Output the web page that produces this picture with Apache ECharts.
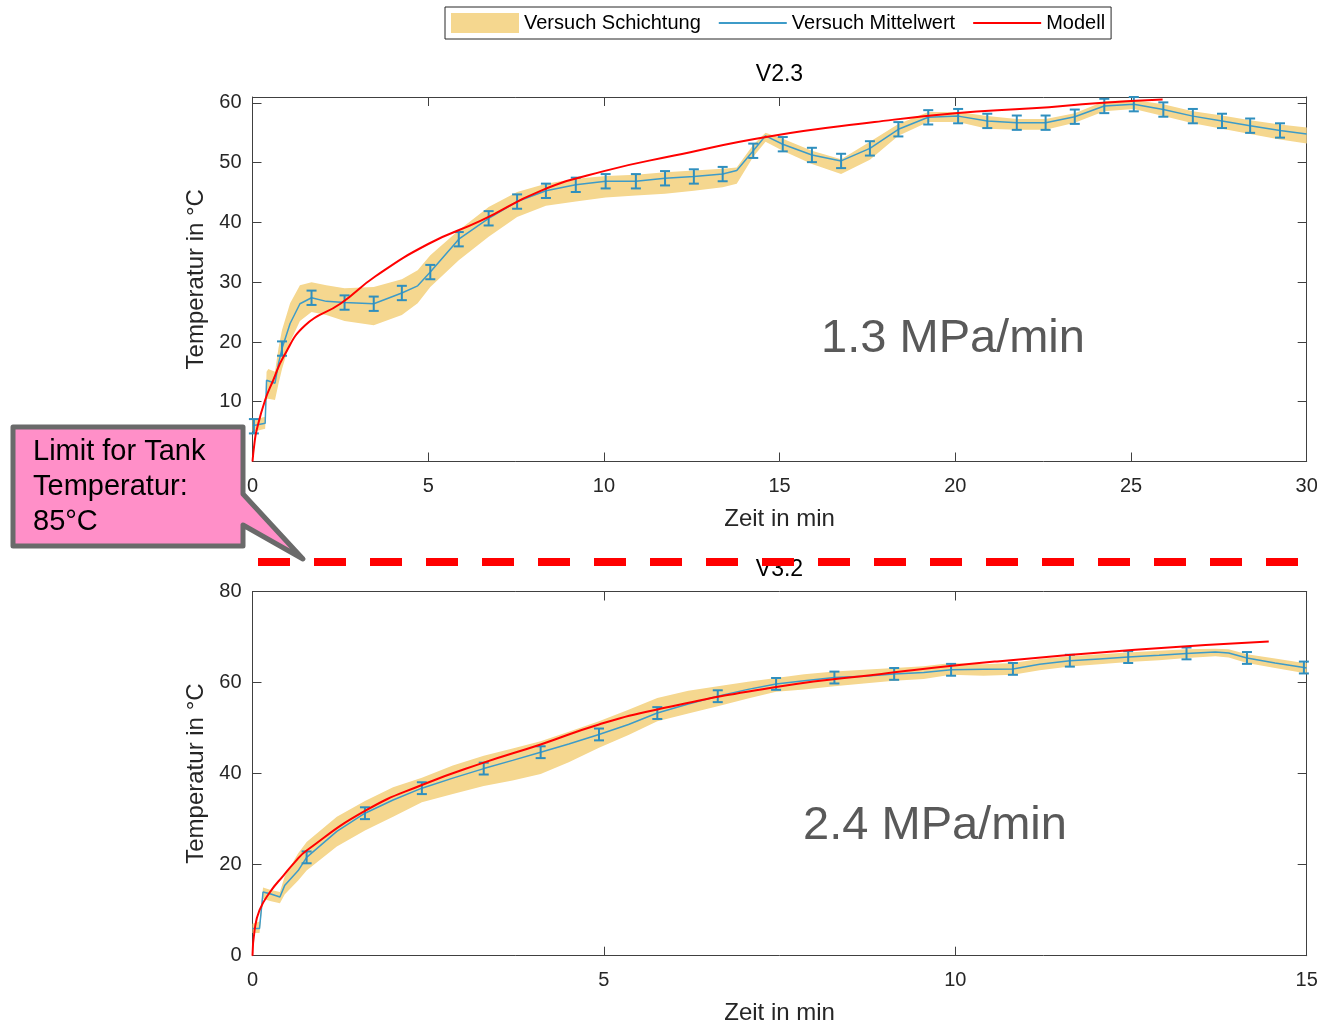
<!DOCTYPE html>
<html>
<head>
<meta charset="utf-8">
<script src="https://cdn.jsdelivr.net/npm/echarts@6/dist/echarts.min.js"></script>
<style>
  html, body { margin: 0; padding: 0; background: #fff; }
  #chart { width: 1317px; height: 1026px; }
</style>
</head>
<body>
<div id="chart"></div>
<script>
// ---- V2.3 (1.3 MPa/min) ----
const topT    = [0, 0.04, 0.36, 0.40, 0.45, 0.64, 0.74, 0.84, 1.07, 1.35, 1.68, 2.1, 2.62, 3.45, 4.25, 4.7, 5.06, 5.87, 6.72, 7.53, 8.35, 9.2, 10.05, 10.91, 11.74, 12.56, 13.38, 13.78, 14.25, 14.6, 15.09, 15.92, 16.75, 17.57, 18.38, 19.23, 20.08, 20.91, 21.75, 22.57, 23.4, 24.24, 25.08, 25.92, 26.76, 27.59, 28.39, 29.24, 30];
const topMean = [6.0, 5.9, 6.4, 13.6, 13.6, 13.1, 16.4, 18.9, 23.1, 26.4, 27.4, 26.8, 26.6, 26.4, 28.2, 29.4, 31.7, 37.2, 40.7, 43.5, 45.3, 46.3, 46.9, 46.9, 47.4, 47.7, 48.1, 48.7, 52.0, 54.5, 53.1, 51.3, 50.3, 52.4, 55.6, 57.6, 57.8, 57.0, 56.7, 56.7, 57.7, 59.5, 59.8, 58.9, 57.8, 57.0, 56.2, 55.4, 54.8];
const topLo   = [5, 5, 5.5, 10.5, 10.5, 10.3, 13, 15.5, 20, 23.5, 25, 24.5, 23.5, 22.8, 24.5, 26.5, 29.2, 33.7, 37.6, 40.9, 42.8, 43.5, 44.2, 44.5, 44.8, 45.3, 45.9, 46.5, 51, 53.5, 52, 49.8, 48.1, 50.5, 54.5, 56.8, 56.8, 55.7, 55.5, 55.5, 56.7, 58.6, 59, 57.8, 56.6, 55.7, 54.8, 53.9, 53.2];
const topHi   = [7, 7, 7.5, 15, 15.5, 15, 19, 22, 26.5, 29.5, 30, 29.5, 29, 29.2, 30.5, 32, 34.5, 38.7, 42.6, 45.1, 46.5, 47.3, 47.8, 48, 48.4, 48.7, 49, 49.2, 53, 55, 54, 52, 50.6, 53.5, 56.5, 58.5, 58.5, 57.8, 57.3, 57.3, 58.3, 60.3, 60.5, 59.8, 58.6, 57.9, 57.1, 56.4, 55.9];
const topErrT = [0.04, 0.84, 1.68, 2.62, 3.45, 4.25, 5.06, 5.87, 6.72, 7.53, 8.35, 9.2, 10.05, 10.91, 11.74, 12.56, 13.38, 14.25, 15.09, 15.92, 16.75, 17.57, 18.38, 19.23, 20.08, 20.91, 21.75, 22.57, 23.4, 24.24, 25.08, 25.92, 26.76, 27.59, 28.39, 29.24];
const topErrY = [5.9, 18.9, 27.4, 26.6, 26.4, 28.2, 31.7, 37.2, 40.7, 43.5, 45.3, 46.3, 46.9, 46.9, 47.4, 47.7, 48.1, 52.0, 53.1, 51.3, 50.3, 52.4, 55.6, 57.6, 57.8, 57.0, 56.7, 56.7, 57.7, 59.5, 59.8, 58.9, 57.8, 57.0, 56.2, 55.4];
const topErrD = [1.2, 1.2, 1.2, 1.2, 1.2, 1.2, 1.2, 1.2, 1.2, 1.2, 1.2, 1.2, 1.2, 1.2, 1.2, 1.2, 1.2, 1.2, 1.2, 1.2, 1.2, 1.2, 1.2, 1.2, 1.2, 1.2, 1.2, 1.2, 1.2, 1.2, 1.2, 1.2, 1.2, 1.2, 1.2, 1.2];
const topModelT = [0, 0.05, 0.12, 0.36, 0.59, 0.89, 1.5, 2.5, 3.5, 5.0, 6.5, 8.2, 10.0, 12.0, 14.7, 17.7, 20.0, 22.2, 24.1, 25.9];
const topModelY = [0, 2.8, 5.3, 10.3, 13.6, 17.6, 22.8, 26.4, 31.0, 36.4, 40.3, 45.3, 48.6, 51.2, 54.4, 56.8, 58.3, 59.1, 60.0, 60.6];

// ---- V3.2 (2.4 MPa/min) ----
const botT    = [0, 0.1, 0.15, 0.25, 0.39, 0.46, 0.65, 0.77, 1.2, 1.6, 2.0, 2.41, 2.85, 3.29, 3.7, 4.10, 4.5, 4.93, 5.35, 5.76, 6.2, 6.62, 7.05, 7.45, 7.85, 8.28, 8.7, 9.13, 9.55, 9.94, 10.4, 10.82, 11.2, 11.63, 12.05, 12.46, 12.9, 13.29, 13.7, 13.89, 14.15, 14.55, 14.96, 15];
const botMean = [6.0, 6.0, 14.0, 13.6, 12.9, 15.5, 18.7, 21.6, 27.3, 31.3, 34.2, 36.8, 39.0, 41.1, 42.9, 44.7, 46.5, 48.6, 50.8, 53.3, 55.3, 57.0, 58.5, 59.7, 60.4, 61.1, 61.4, 61.9, 62.2, 62.8, 62.9, 63.0, 64.0, 64.8, 65.2, 65.6, 66.0, 66.4, 66.7, 66.5, 65.4, 64.3, 63.3, 63.2];
const botLo   = [5, 5, 12.5, 12, 11.5, 13.5, 16.5, 18.7, 24, 27.5, 30.5, 33.7, 35.5, 37.3, 38.5, 39.9, 42.5, 45.7, 48.5, 51.5, 53.2, 54.8, 56.5, 58, 58.5, 59.2, 59.8, 60.4, 60.8, 61.7, 61.5, 61.7, 62.7, 63.5, 64, 64.5, 64.9, 65.4, 65.8, 65.5, 64.3, 63.2, 62.1, 62];
const botHi   = [7, 7.5, 15, 14.5, 14, 17.5, 22.5, 25, 30.5, 34, 37, 39.1, 41.8, 43.9, 45.5, 47.1, 49.2, 51.5, 54, 56.6, 58.2, 59.2, 60.2, 61, 61.8, 62.4, 62.8, 63.2, 63.6, 64.3, 64, 64.3, 65.2, 65.8, 66.2, 66.6, 67, 67.3, 67.4, 67.3, 66.2, 65.3, 64.3, 64.3];
const botErrT = [0.77, 1.60, 2.41, 3.29, 4.10, 4.93, 5.76, 6.62, 7.45, 8.28, 9.13, 9.94, 10.82, 11.63, 12.46, 13.29, 14.15, 14.96];
const botErrY = [21.6, 31.3, 36.8, 41.1, 44.7, 48.6, 53.3, 57.0, 59.7, 61.1, 61.9, 62.8, 63.0, 64.8, 65.6, 66.4, 65.4, 63.3];
const botErrD = [1.3, 1.3, 1.3, 1.3, 1.3, 1.3, 1.3, 1.3, 1.3, 1.3, 1.3, 1.3, 1.3, 1.3, 1.3, 1.3, 1.3, 1.3];
const botModelT = [0, 0.03, 0.1, 0.25, 0.44, 0.6, 0.77, 1.6, 2.41, 3.29, 4.1, 4.93, 5.76, 7.52, 8.95, 10.56, 12.56, 14.46];
const botModelY = [0, 5.6, 10, 14, 17.6, 20.5, 23.1, 31.8, 37.5, 42.4, 46.4, 50.8, 54.1, 59.2, 61.9, 64.6, 67.2, 69.0];

// tick labels
const topXTicks = [0, 5, 10, 15, 20, 25, 30];
const topYTicks = [0, 10, 20, 30, 40, 50, 60];
const botXTicks = [0, 5, 10, 15];
const botYTicks = [0, 20, 40, 60, 80];

const FONT = 'Liberation Sans, Arial, sans-serif';
const axisCol = '#404040';
const textCol = '#262626';
const bandCol = '#f5d78f';
const meanCol = '#3d9bc8';
const errCol = '#2f8fbe';
const modelCol = '#ff0000';
const lineIcon = 'path://M0,0H68V2H0Z';

function xAxes(gi, ticks) {
  const base = {
    type: 'value', gridIndex: gi, min: ticks[0], max: ticks[ticks.length - 1],
    interval: ticks[1] - ticks[0], splitLine: { show: false },
    axisLine: { onZero: false, lineStyle: { color: axisCol, width: 1 } },
    axisTick: { inside: true, length: 9, lineStyle: { color: axisCol } }
  };
  return [
    Object.assign({}, base, {
      position: 'bottom', name: 'Zeit in min', nameLocation: 'middle', nameGap: 46,
      nameTextStyle: { fontSize: 24, color: textCol, fontFamily: FONT },
      axisLabel: { fontSize: 20, color: textCol, margin: 15, fontFamily: FONT }
    }),
    Object.assign({}, base, { position: 'top', axisLabel: { show: false } })
  ];
}

function yAxes(gi, ticks, max) {
  const base = {
    type: 'value', gridIndex: gi, min: ticks[0], max: max,
    interval: ticks[1] - ticks[0], splitLine: { show: false },
    axisLine: { onZero: false, lineStyle: { color: axisCol, width: 1 } },
    axisTick: { inside: true, length: 9, lineStyle: { color: axisCol } }
  };
  return [
    Object.assign({}, base, {
      position: 'left', name: 'Temperatur in °C', nameLocation: 'middle', nameGap: 44,
      nameTextStyle: { fontSize: 24, color: textCol, fontFamily: FONT },
      axisLabel: { fontSize: 20, color: textCol, margin: 11, fontFamily: FONT,
                   showMaxLabel: max === ticks[ticks.length - 1] }
    }),
    Object.assign({}, base, { position: 'right', axisLabel: { show: false } })
  ];
}

function plotSeries(key, ai, t, mean, lo, hi, errT, errY, errD, modelT, modelY) {
  return [
    {
      // band drawn as one polygon: upper edge forward, lower edge back
      name: 'Versuch Schichtung', type: 'custom', xAxisIndex: ai, yAxisIndex: ai, silent: true, z: 1,
      itemStyle: { color: bandCol },
      encode: { x: 0, y: [1, 2] },
      data: t.map((x, i) => [x, lo[i], hi[i]]),
      renderItem: function (params, api) {
        if (params.dataIndex !== 0) return null;
        const pts = [];
        for (let i = 0; i < t.length; i++) pts.push(api.coord([t[i], hi[i]]));
        for (let i = t.length - 1; i >= 0; i--) pts.push(api.coord([t[i], lo[i]]));
        return { type: 'polygon', shape: { points: pts }, style: { fill: bandCol } };
      }
    },
    {
      name: 'Versuch Mittelwert', type: 'line', xAxisIndex: ai, yAxisIndex: ai,
      data: t.map((x, i) => [x, mean[i]]), symbol: 'none',
      itemStyle: { color: meanCol }, lineStyle: { color: meanCol, width: 1.5 }, z: 3
    },
    {
      name: key + '-err', type: 'custom', xAxisIndex: ai, yAxisIndex: ai, silent: true, z: 4,
      encode: { x: 0, y: [1, 2] },
      data: errT.map((x, i) => [x, errY[i] - errD[i], errY[i] + errD[i]]),
      renderItem: function (params, api) {
        const a = api.coord([api.value(0), api.value(1)]);
        const b = api.coord([api.value(0), api.value(2)]);
        const w = 5;
        const st = { stroke: errCol, lineWidth: 2 };
        return {
          type: 'group',
          children: [
            { type: 'line', shape: { x1: a[0], y1: a[1], x2: b[0], y2: b[1] }, style: st },
            { type: 'line', shape: { x1: a[0] - w, y1: a[1], x2: a[0] + w, y2: a[1] }, style: st },
            { type: 'line', shape: { x1: b[0] - w, y1: b[1], x2: b[0] + w, y2: b[1] }, style: st }
          ]
        };
      }
    },
    {
      name: 'Modell', type: 'line', xAxisIndex: ai, yAxisIndex: ai,
      data: modelT.map((x, i) => [x, modelY[i]]), symbol: 'none', smooth: 0.5,
      itemStyle: { color: modelCol }, lineStyle: { color: modelCol, width: 2 }, z: 5
    }
  ];
}

const chart = echarts.init(document.getElementById('chart'));
chart.setOption({
  animation: false,
  textStyle: { fontFamily: FONT },
  legend: {
    left: 445, top: 7, padding: [6, 6],
    itemWidth: 68, itemHeight: 20, itemGap: 18,
    borderColor: '#262626', borderWidth: 1,
    textStyle: { fontSize: 20, color: '#000', fontFamily: FONT },
    data: [
      { name: 'Versuch Schichtung', icon: 'rect', itemStyle: { color: bandCol } },
      { name: 'Versuch Mittelwert', icon: lineIcon, itemStyle: { color: meanCol } },
      { name: 'Modell', icon: lineIcon, itemStyle: { color: modelCol } }
    ]
  },
  grid: [
    { left: 252.5, right: 10.3, top: 97, bottom: 564.5, outerBoundsMode: 'none', containLabel: false },
    { left: 252.5, right: 10.3, top: 591.5, bottom: 70.3, outerBoundsMode: 'none', containLabel: false }
  ],
  xAxis: xAxes(0, topXTicks).concat(xAxes(1, botXTicks)),
  yAxis: yAxes(0, topYTicks, 61).concat(yAxes(1, botYTicks, 80)),
  series: plotSeries('top', 0, topT, topMean, topLo, topHi, topErrT, topErrY, topErrD, topModelT, topModelY)
    .concat(plotSeries('bot', 2, botT, botMean, botLo, botHi, botErrT, botErrY, botErrD, botModelT, botModelY)),
  graphic: [
    { type: 'text', x: 779.5, y: 75, z: 50, style: { text: 'V2.3', fontSize: 23, fontFamily: FONT, fill: '#000', align: 'center', verticalAlign: 'middle' } },
    { type: 'text', x: 779.5, y: 570, z: 50, style: { text: 'V3.2', fontSize: 23, fontFamily: FONT, fill: '#000', align: 'center', verticalAlign: 'middle' } },
    { type: 'text', x: 953, y: 339, z: 50, style: { text: '1.3 MPa/min', fontSize: 47, fontFamily: FONT, fill: '#595959', align: 'center', verticalAlign: 'middle' } },
    { type: 'text', x: 935, y: 826, z: 50, style: { text: '2.4 MPa/min', fontSize: 47, fontFamily: FONT, fill: '#595959', align: 'center', verticalAlign: 'middle' } },
    {
      type: 'polygon', z: 100,
      shape: { points: [[13, 427], [243, 427], [243, 494], [303, 559], [243, 525], [243, 546], [13, 546]] },
      style: { fill: '#ff8fc8', stroke: '#6a6a6a', lineWidth: 5, lineJoin: 'round' }
    },
    { type: 'text', x: 33, y: 434, z: 101, style: { text: 'Limit for Tank\nTemperatur:\n85°C', fontSize: 29, lineHeight: 35, fontFamily: FONT, fill: '#000', align: 'left', verticalAlign: 'top' } },
    { type: 'line', z: 100, shape: { x1: 258, y1: 562, x2: 1300, y2: 562 }, style: { stroke: '#ff0000', lineWidth: 8, lineDash: [32, 24] } }
  ]
});
</script>
</body>
</html>
